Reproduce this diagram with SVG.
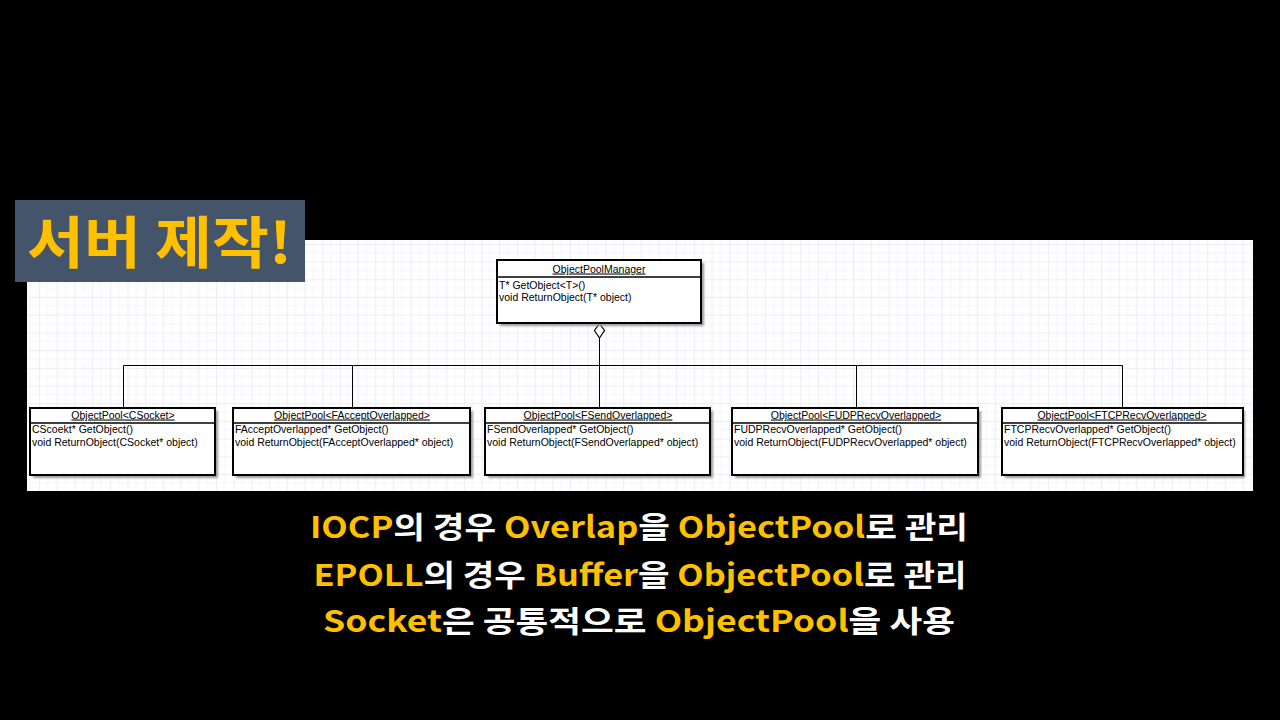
<svg xmlns="http://www.w3.org/2000/svg" width="1280" height="720" viewBox="0 0 1280 720">
  <defs>
    <pattern id="grid" patternUnits="userSpaceOnUse" x="39" y="297" width="17.7" height="17.7">
      <rect width="17.7" height="17.7" fill="#ffffff"/>
      <line x1="8.85" y1="0" x2="8.85" y2="17.7" stroke="#f7f5fe" stroke-width="1"/>
      <line x1="0" y1="8.85" x2="17.7" y2="8.85" stroke="#f7f5fe" stroke-width="1"/>
      <line x1="0.5" y1="0" x2="0.5" y2="17.7" stroke="#eeebfc" stroke-width="1"/>
      <line x1="0" y1="0.5" x2="17.7" y2="0.5" stroke="#eeebfc" stroke-width="1"/>
    </pattern>
    <filter id="blur" x="-5%" y="-5%" width="110%" height="120%">
      <feGaussianBlur stdDeviation="1"/>
    </filter>
  </defs>
  <style>
    .shadow { fill: #9a9a9a; filter: url(#blur); }
    .box { fill: #ffffff; stroke: #000000; stroke-width: 2; }
    .div { stroke: #000000; stroke-width: 1.5; }
    .hdr { font-family: "Liberation Sans", Arial, sans-serif; font-size: 10.5px; fill: #000; text-anchor: middle; text-decoration: underline; }
    .m { font-family: "Liberation Sans", Arial, sans-serif; font-size: 10.5px; fill: #000; }
    .conn { stroke: #000; stroke-width: 1; fill: none; }
    .bt { font-family: "Noto Sans CJK KR", "Noto Sans", sans-serif; font-size: 30px; font-weight: bold; text-anchor: middle; fill: #ffffff; }
    .y { fill: #FFC000; }
  </style>
  <rect x="0" y="0" width="1280" height="720" fill="#000000"/>
  <rect x="27" y="240" width="1226" height="251" fill="url(#grid)"/>

  <g id="title">
    <rect x="15" y="200" width="290" height="82" fill="#44546A"/>
    <text x="27" y="263" font-family="Noto Sans CJK KR, sans-serif" font-size="56" font-weight="bold" fill="#FFC000" textLength="265" lengthAdjust="spacingAndGlyphs">서버 제작!</text>
  </g>

  <g id="connectors">
    <line class="conn" x1="599.5" y1="338" x2="599.5" y2="365.5"/>
    <line class="conn" x1="123.5" y1="365.5" x2="1122.5" y2="365.5"/>
    <line class="conn" x1="123.5" y1="365.5" x2="123.5" y2="407"/>
    <line class="conn" x1="352.5" y1="365.5" x2="352.5" y2="407"/>
    <line class="conn" x1="599.5" y1="365.5" x2="599.5" y2="407"/>
    <line class="conn" x1="856.5" y1="365.5" x2="856.5" y2="407"/>
    <line class="conn" x1="1122.5" y1="365.5" x2="1122.5" y2="407"/>
    <polygon points="599.5,323.5 604.5,330.5 599.5,338 594.5,330.5" fill="#ffffff" stroke="#000" stroke-width="1.2"/>
  </g>

  <g id="manager">
    <rect class="shadow" x="500" y="263" width="204" height="63"/>
    <rect class="box" x="497" y="260" width="204" height="63"/>
    <line class="div" x1="497" y1="277" x2="701" y2="277"/>
    <text class="hdr" x="599" y="272.5">ObjectPoolManager</text>
    <text class="m" x="499" y="288.5">T* GetObject&lt;T&gt;()</text>
    <text class="m" x="499" y="301">void ReturnObject(T* object)</text>
  </g>

  <g id="pool-csocket">
    <rect class="shadow" x="33" y="411" width="185" height="67"/>
    <rect class="box" x="30" y="408" width="185" height="67"/>
    <line class="div" x1="30" y1="423" x2="215" y2="423"/>
    <text class="hdr" x="123" y="418.5">ObjectPool&lt;CSocket&gt;</text>
    <text class="m" x="32" y="432.5">CScoekt* GetObject()</text>
    <text class="m" x="32" y="445.5">void ReturnObject(CSocket* object)</text>
  </g>

  <g id="pool-faccept">
    <rect class="shadow" x="236" y="411" width="237" height="67"/>
    <rect class="box" x="233" y="408" width="237" height="67"/>
    <line class="div" x1="233" y1="423" x2="470" y2="423"/>
    <text class="hdr" x="352" y="418.5">ObjectPool&lt;FAcceptOverlapped&gt;</text>
    <text class="m" x="235" y="432.5">FAcceptOverlapped* GetObject()</text>
    <text class="m" x="235" y="445.5">void ReturnObject(FAcceptOverlapped* object)</text>
  </g>

  <g id="pool-fsend">
    <rect class="shadow" x="488" y="411" width="225" height="67"/>
    <rect class="box" x="485" y="408" width="225" height="67"/>
    <line class="div" x1="485" y1="423" x2="710" y2="423"/>
    <text class="hdr" x="598" y="418.5">ObjectPool&lt;FSendOverlapped&gt;</text>
    <text class="m" x="487" y="432.5">FSendOverlapped* GetObject()</text>
    <text class="m" x="487" y="445.5">void ReturnObject(FSendOverlapped* object)</text>
  </g>

  <g id="pool-fudp">
    <rect class="shadow" x="735" y="411" width="246" height="67"/>
    <rect class="box" x="732" y="408" width="246" height="67"/>
    <line class="div" x1="732" y1="423" x2="978" y2="423"/>
    <text class="hdr" x="856" y="418.5">ObjectPool&lt;FUDPRecvOverlapped&gt;</text>
    <text class="m" x="734" y="432.5">FUDPRecvOverlapped* GetObject()</text>
    <text class="m" x="734" y="445.5">void ReturnObject(FUDPRecvOverlapped* object)</text>
  </g>

  <g id="pool-ftcp">
    <rect class="shadow" x="1005" y="411" width="240" height="67"/>
    <rect class="box" x="1002" y="408" width="241" height="67"/>
    <line class="div" x1="1002" y1="423" x2="1243" y2="423"/>
    <text class="hdr" x="1122" y="418.5">ObjectPool&lt;FTCPRecvOverlapped&gt;</text>
    <text class="m" x="1004" y="432.5">FTCPRecvOverlapped* GetObject()</text>
    <text class="m" x="1004" y="445.5">void ReturnObject(FTCPRecvOverlapped* object)</text>
  </g>

  <g id="caption">
    <text class="bt" x="639" y="538" textLength="658" lengthAdjust="spacingAndGlyphs"><tspan class="y">IOCP</tspan>의 경우 <tspan class="y">Overlap</tspan>을 <tspan class="y">ObjectPool</tspan>로 관리</text>
    <text class="bt" x="640" y="586" textLength="653" lengthAdjust="spacingAndGlyphs"><tspan class="y">EPOLL</tspan>의 경우 <tspan class="y">Buffer</tspan>을 <tspan class="y">ObjectPool</tspan>로 관리</text>
    <text class="bt" x="639" y="632" textLength="632" lengthAdjust="spacingAndGlyphs"><tspan class="y">Socket</tspan>은 공통적으로 <tspan class="y">ObjectPool</tspan>을 사용</text>
  </g>
</svg>
